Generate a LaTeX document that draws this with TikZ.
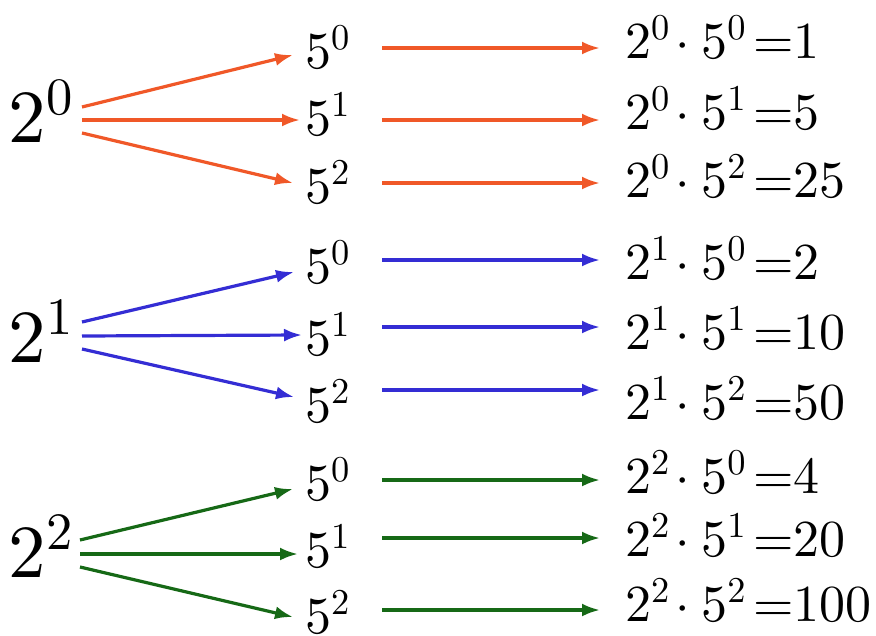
\documentclass[tikz,border=0pt]{standalone}
\DeclareFontShape{OT1}{cmr}{m}{n}{<->cmr10}{}
\DeclareFontShape{OMS}{cmsy}{m}{n}{<->cmsy10}{}
\DeclareFontShape{OML}{cmm}{m}{it}{<->cmmi10}{}
\DeclareFontShape{OMX}{cmex}{m}{n}{<->cmex10}{}
\usetikzlibrary{arrows.meta}
\definecolor{oc}{RGB}{240,88,40}
\definecolor{bc}{RGB}{52,45,212}
\definecolor{gc}{RGB}{22,105,22}
\newcommand\rtx[3]{$2^{#1}\mkern-2mu\cdot 5^{#2}\mkern-2.5mu=\mkern-5mu #3$}
\begin{document}
\begin{tikzpicture}[x=1pt,y=-1pt,
  lab/.style={inner sep=0pt, outer sep=0pt, anchor=base west, font=\fontsize{52}{60}\selectfont},
  big/.style={lab, font=\fontsize{75}{86}\selectfont},
  arr/.style={line width=3.2pt, -{Latex[length=18pt,width=13pt]}},
]
\useasboundingbox (0,0) rectangle (876,635);
% orange group
\node[big] (b0) at (9,142) {$2^{0}$};
\node[lab] (f00) at (305,68) {$5^{0}$};
\node[lab] (f01) at (305,135) {$5^{1}$};
\node[lab] (f02) at (305,203) {$5^{2}$};
\node[lab] (r00) at (625,58) {\rtx{0}{0}{1}};
\node[lab] (r01) at (625,129) {\rtx{0}{1}{5}};
\node[lab] (r02) at (625,197) {\rtx{0}{2}{25}};
\draw[arr,oc] ([shift={(73,-35)}]b0.base west) -- ([shift={(-12,-13)}]f00.base west);
\draw[arr,oc] ([shift={(73,-22)}]b0.base west) -- ([shift={(-5,-15)}]f01.base west);
\draw[arr,oc] ([shift={(73,-9)}]b0.base west) -- ([shift={(-12,-20)}]f02.base west);
\draw[arr,oc] ([shift={(77,-20)}]f00.base west) -- ([shift={(-25,-10)}]r00.base west);
\draw[arr,oc] ([shift={(77,-15)}]f01.base west) -- ([shift={(-25,-9)}]r01.base west);
\draw[arr,oc] ([shift={(77,-20)}]f02.base west) -- ([shift={(-25,-14)}]r02.base west);
% blue group
\node[big] (b1) at (9,362) {$2^{1}$};
\node[lab] (f10) at (305,283) {$5^{0}$};
\node[lab] (f11) at (305,355) {$5^{1}$};
\node[lab] (f12) at (305,422) {$5^{2}$};
\node[lab] (r10) at (625,279) {\rtx{1}{0}{2}};
\node[lab] (r11) at (625,349) {\rtx{1}{1}{10}};
\node[lab] (r12) at (625,419) {\rtx{1}{2}{50}};
\draw[arr,bc] ([shift={(73,-40)}]b1.base west) -- ([shift={(-11,-11)}]f10.base west);
\draw[arr,bc] ([shift={(73,-26)}]b1.base west) -- ([shift={(-3,-20)}]f11.base west);
\draw[arr,bc] ([shift={(73,-13)}]b1.base west) -- ([shift={(-11,-25)}]f12.base west);
\draw[arr,bc] ([shift={(77,-23)}]f10.base west) -- ([shift={(-25,-19)}]r10.base west);
\draw[arr,bc] ([shift={(77,-28)}]f11.base west) -- ([shift={(-25,-22)}]r11.base west);
\draw[arr,bc] ([shift={(77,-32)}]f12.base west) -- ([shift={(-25,-29)}]r12.base west);
% green group
\node[big] (b2) at (9,577) {$2^{2}$};
\node[lab] (f20) at (305,500) {$5^{0}$};
\node[lab] (f21) at (305,567) {$5^{1}$};
\node[lab] (f22) at (305,633) {$5^{2}$};
\node[lab] (r20) at (625,493) {\rtx{2}{0}{4}};
\node[lab] (r21) at (625,556) {\rtx{2}{1}{20}};
\node[lab] (r22) at (625,621) {\rtx{2}{2}{100}};
\draw[arr,gc] ([shift={(71,-37)}]b2.base west) -- ([shift={(-12,-11)}]f20.base west);
\draw[arr,gc] ([shift={(71,-23)}]b2.base west) -- ([shift={(-7,-13)}]f21.base west);
\draw[arr,gc] ([shift={(71,-10)}]b2.base west) -- ([shift={(-12,-16)}]f22.base west);
\draw[arr,gc] ([shift={(77,-20)}]f20.base west) -- ([shift={(-25,-13)}]r20.base west);
\draw[arr,gc] ([shift={(77,-29)}]f21.base west) -- ([shift={(-25,-18)}]r21.base west);
\draw[arr,gc] ([shift={(77,-23)}]f22.base west) -- ([shift={(-25,-11)}]r22.base west);
\end{tikzpicture}
\end{document}
